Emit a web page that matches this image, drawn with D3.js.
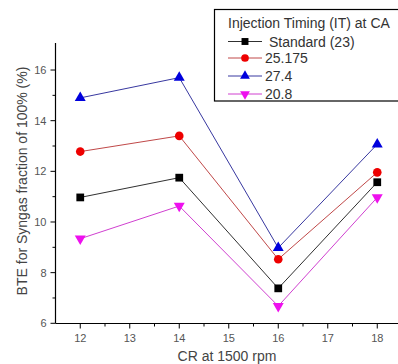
<!DOCTYPE html>
<html><head><meta charset="utf-8">
<script src="https://cdn.jsdelivr.net/npm/d3@7/dist/d3.min.js"></script>
<style>body{margin:0;background:#fff}svg{display:block}text{font-family:"Liberation Sans",Arial,sans-serif}</style>
</head><body>
<script>
const crValues = [12, 14, 16, 18];
const seriesNames = ["Standard (23)", "25.175", "27.4", "20.8"];
const standard = [10.97, 11.75, 7.38, 11.57];
const it25175 = [12.78, 13.4, 8.53, 11.96];
const it274 = [14.9, 15.7, 8.98, 13.07];
const it208 = [9.34, 10.63, 6.68, 10.97];
const xTicks = [12, 13, 14, 15, 16, 17, 18];
const yTicks = [6, 8, 10, 12, 14, 16];
const legendTitle = "Injection Timing (IT) at CA";
const xLabel = "CR at 1500 rpm";
const yLabel = "BTE for Syngas fraction of 100% (%)";

const styles = [
  {line:"#303030", fill:"#000", sym:d3.symbolSquare, size:60},
  {line:"#c04848", fill:"#ee0000", sym:d3.symbolCircle, size:58},
  {line:"#3838a0", fill:"#0000dd", sym:d3.symbolTriangle, size:52},
  {line:"#d040d0", fill:"#ee10ee", sym:d3.symbolTriangle, size:52, rot:180}
];
const allSeries = [standard, it25175, it274, it208];

const W=398,H=364;
const svg=d3.select("body").append("svg").attr("width",W).attr("height",H);
const x=d3.scaleLinear().domain([11.5,18.5]).range([55.5,402]);
const y=d3.scaleLinear().domain([6,17]).range([323.3,44.7]);

// axes
const xAxis=svg.append("g").attr("transform","translate(0,323.5)");
xAxis.append("line").attr("x1",55.5).attr("x2",W).attr("stroke","#000").attr("stroke-width",1.2);
const xMinor=d3.range(12.5,18.5,1);
xAxis.selectAll(".mj").data(xTicks).join("line").attr("x1",d=>x(d)).attr("x2",d=>x(d)).attr("y1",0).attr("y2",5).attr("stroke","#000");
xAxis.selectAll(".mn").data(xMinor).join("line").attr("x1",d=>x(d)).attr("x2",d=>x(d)).attr("y1",0).attr("y2",3).attr("stroke","#000");
xAxis.selectAll("text").data(xTicks).join("text").attr("x",d=>x(d)).attr("y",18.5).attr("text-anchor","middle").attr("font-size",11).attr("fill","#555").text(d=>d);

const yAxis=svg.append("g").attr("transform","translate(55.5,0)");
yAxis.append("line").attr("y1",y(6)).attr("y2",43).attr("stroke","#000").attr("stroke-width",1.2);
yAxis.selectAll(".mj").data(yTicks).join("line").attr("y1",d=>y(d)).attr("y2",d=>y(d)).attr("x1",0).attr("x2",-5).attr("stroke","#000");
yAxis.selectAll(".mn").data([7,9,11,13,15]).join("line").attr("y1",d=>y(d)).attr("y2",d=>y(d)).attr("x1",0).attr("x2",-3).attr("stroke","#000");
yAxis.selectAll("text").data(yTicks).join("text").attr("x",-9).attr("y",d=>y(d)+4).attr("text-anchor","end").attr("font-size",11).attr("fill","#555").text(d=>d);

svg.append("text").attr("x",227).attr("y",361).attr("text-anchor","middle").attr("font-size",14).attr("fill","#444").text(xLabel);
svg.append("text").attr("transform","translate(27,181) rotate(-90)").attr("text-anchor","middle").attr("font-size",14).attr("fill","#444").text(yLabel);

// series
const line=d3.line().x((d,i)=>x(crValues[i])).y(d=>y(d));
allSeries.forEach((s,k)=>{
  const st=styles[k];
  svg.append("path").attr("d",line(s)).attr("fill","none").attr("stroke",st.line).attr("stroke-width",1);
  svg.selectAll(".m"+k).data(s).join("path")
    .attr("transform",(d,i)=>`translate(${x(crValues[i])},${y(d)})${st.rot?" rotate(180)":""}`)
    .attr("d",d3.symbol().type(st.sym).size(st.size)).attr("fill",st.fill);
});

// legend
const lg=svg.append("g");
lg.append("rect").attr("x",214.5).attr("y",9.5).attr("width",200).attr("height",91.5).attr("fill","#fff").attr("stroke","#000").attr("stroke-width",1.2);
lg.append("text").attr("x",228).attr("y",27.5).attr("font-size",14).attr("fill","#333").text(legendTitle);
const rowsY=[41.5,58,76,94];
seriesNames.forEach((n,k)=>{
  const st=styles[k], yy=rowsY[k];
  lg.append("line").attr("x1",228).attr("x2",262).attr("y1",yy).attr("y2",yy).attr("stroke",st.line).attr("stroke-width",1);
  lg.append("path").attr("transform",`translate(245,${yy})${st.rot?" rotate(180)":""}`).attr("d",d3.symbol().type(st.sym).size(st.size*0.8)).attr("fill",st.fill);
  lg.append("text").attr("x",k===0?269:265).attr("y",yy+5).attr("font-size",14).attr("fill","#333").text(n);
});
</script>
</body></html>
